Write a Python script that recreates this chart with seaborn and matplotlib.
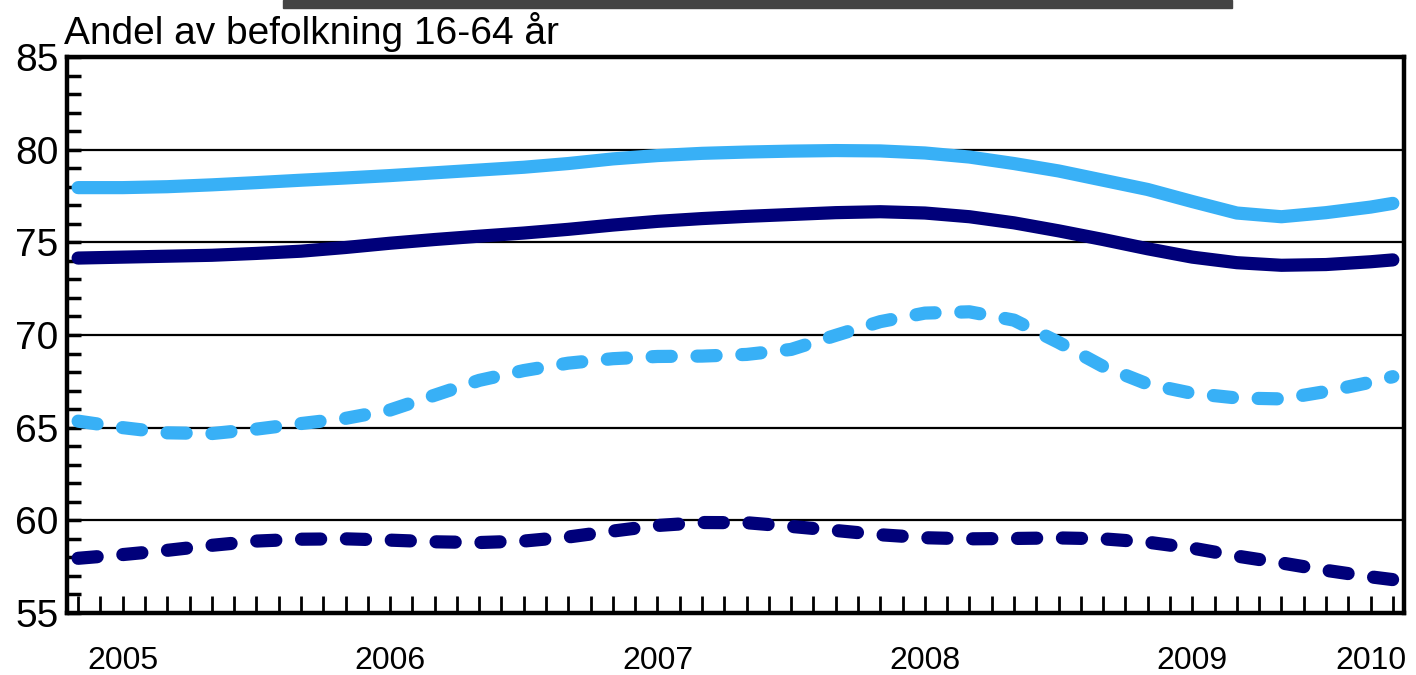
import numpy as np
import pandas as pd
import matplotlib
matplotlib.use('Agg')
import matplotlib.pyplot as plt
import seaborn as sns
from matplotlib.patches import Rectangle
from matplotlib.ticker import MultipleLocator, FixedLocator

# Month index (0 = left edge of the axis), one reading every second month
months = [0.5, 2.5, 4.5, 6.5, 8.5, 10.5, 12.5, 14.5, 16.5, 18.5,
          20.5, 22.5, 24.5, 26.5, 28.5, 30.5, 32.5, 34.5, 36.5, 38.5,
          40.5, 42.5, 44.5, 46.5, 48.5, 50.5, 52.5, 54.5, 56.5, 58.5, 59.5]

light_solid = [77.95, 77.95, 78.0, 78.1, 78.22, 78.35, 78.47, 78.6, 78.75, 78.9,
               79.05, 79.25, 79.5, 79.68, 79.8, 79.87, 79.92, 79.95, 79.93, 79.82,
               79.6, 79.25, 78.85, 78.35, 77.85, 77.2, 76.58, 76.38, 76.6, 76.9, 77.1]

navy_solid = [74.15, 74.2, 74.25, 74.3, 74.4, 74.52, 74.72, 74.95, 75.15, 75.33,
              75.5, 75.7, 75.93, 76.13, 76.28, 76.4, 76.5, 76.6, 76.65, 76.58,
              76.38, 76.05, 75.62, 75.15, 74.65, 74.2, 73.9, 73.76, 73.8, 73.95, 74.05]

light_dashed = [65.35, 65.0, 64.72, 64.68, 64.92, 65.22, 65.5, 65.95, 66.75, 67.55,
                68.08, 68.48, 68.72, 68.84, 68.86, 68.95, 69.22, 69.98, 70.72, 71.18,
                71.25, 70.8, 69.6, 68.3, 67.35, 66.85, 66.6, 66.55, 66.95, 67.45, 67.75]

navy_dashed = [57.95, 58.15, 58.38, 58.65, 58.88, 58.98, 59.0, 58.93, 58.84, 58.8,
               58.88, 59.1, 59.42, 59.72, 59.88, 59.87, 59.67, 59.45, 59.22, 59.06,
               59.0, 59.02, 59.05, 59.0, 58.82, 58.5, 58.07, 57.7, 57.3, 56.95, 56.8]

year_labels = ['2005', '2006', '2007', '2008', '2009', '2010']
year_pos = [2.5, 14.5, 26.5, 38.5, 50.5, 58.5]

light_blue = '#38b0f6'
navy = '#00007a'

sns.set_style('white')
plt.rcParams['font.family'] = ['Liberation Sans', 'DejaVu Sans']
plt.rcParams['text.color'] = 'black'
plt.rcParams['xtick.color'] = 'black'
plt.rcParams['ytick.color'] = 'black'

fig = plt.figure(figsize=(14.16, 6.75), dpi=100)
ax = fig.add_axes([0.0473, 0.0919, 0.9442, 0.8237])

# grid lines first so the series sit on top
for yv in [60, 65, 70, 75, 80]:
    ax.axhline(yv, color='black', linewidth=1.6, zorder=1)

lw = 9.5
dash = (0, (1.45, 1.95))
sns.lineplot(x=months, y=light_solid, ax=ax, color=light_blue, linewidth=lw,
             solid_capstyle='round', solid_joinstyle='round', zorder=3)
sns.lineplot(x=months, y=navy_solid, ax=ax, color=navy, linewidth=lw,
             solid_capstyle='round', solid_joinstyle='round', zorder=3)
sns.lineplot(x=months, y=light_dashed, ax=ax, color=light_blue, linewidth=lw,
             linestyle=dash, dash_capstyle='round', dash_joinstyle='round', zorder=3)
sns.lineplot(x=months, y=navy_dashed, ax=ax, color=navy, linewidth=lw,
             linestyle=dash, dash_capstyle='round', dash_joinstyle='round', zorder=3)

ax.set_xlim(0, 60)
ax.set_ylim(55, 85)

# x axis: year labels, monthly ticks inward
ax.xaxis.remove_overlapping_locs = False
ax.xaxis.set_major_locator(FixedLocator(year_pos))
ax.set_xticklabels(year_labels)
ax.xaxis.set_minor_locator(FixedLocator(np.arange(0.5, 60, 1.0)))
ax.tick_params(axis='x', which='major', length=0, pad=24, labelsize=23)
ax.tick_params(axis='x', which='minor', direction='in', length=12, width=2,
               bottom=True)

# y axis
ax.yaxis.set_major_locator(MultipleLocator(5))
ax.yaxis.set_minor_locator(MultipleLocator(1))
ax.tick_params(axis='y', which='major', direction='in', length=10, width=2.5,
               left=True, pad=6, labelsize=28)
ax.tick_params(axis='y', which='minor', direction='in', length=10, width=2.5,
               left=True)

for side in ['top', 'bottom', 'left', 'right']:
    ax.spines[side].set_visible(True)
    ax.spines[side].set_color('black')
    ax.spines[side].set_linewidth(3.2)

ax.set_xlabel('')
ax.set_ylabel('')

fig.text(0.045, 0.935, 'Andel av befolkning 16-64 år', fontsize=28,
         ha='left', va='baseline')

# dark bar cut off at the top edge
fig.patches.append(Rectangle((283 / 1416, 1 - 8 / 675), (1232 - 283) / 1416, 8 / 675,
                             transform=fig.transFigure, color='#444444', zorder=5))

fig.savefig('out.png', dpi=100)
